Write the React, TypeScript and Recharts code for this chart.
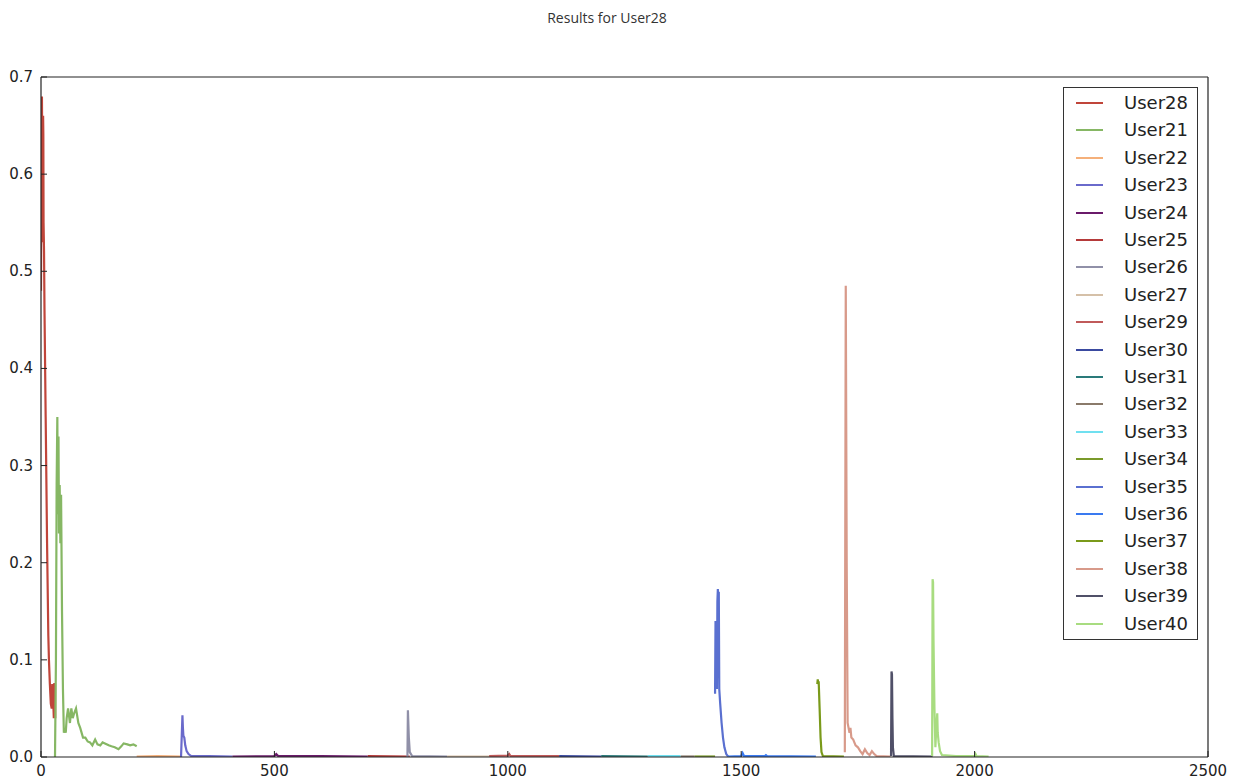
import React from 'react';
import { LineChart, Line, XAxis, YAxis } from 'recharts';

const TITLE = 'Results for User28';
const X_TICKS = [0, 500, 1000, 1500, 2000, 2500];
const Y_TICKS = [0, 0.1, 0.2, 0.3, 0.4, 0.5, 0.6, 0.7];

type Pair = [number, number];

const user28: Pair[] = [[0, 0.48], [1, 0.62], [2, 0.68], [3, 0.6], [3.6, 0.53], [4.5, 0.66], [5, 0.64], [5.5, 0.55], [6.5, 0.52], [7.5, 0.46], [10, 0.35], [13, 0.22], [15.7, 0.125], [17, 0.1], [19, 0.075], [21, 0.055], [23, 0.05], [24, 0.075], [26, 0.06], [27.5, 0.04], [28.5, 0.075], [30, 0.075], [30.5, 0.04]];
const user21: Pair[] = [[30, 0], [32, 0.1], [33.5, 0.28], [35, 0.35], [36, 0.25], [37.5, 0.33], [38.5, 0.23], [40, 0.28], [41.5, 0.22], [43, 0.27], [45, 0.15], [47, 0.07], [49, 0.025], [51, 0.03], [53, 0.025], [55, 0.04], [58, 0.05], [62, 0.035], [65, 0.05], [68, 0.04], [71, 0.045], [75, 0.05], [80, 0.035], [84, 0.03], [90, 0.02], [95, 0.02], [100, 0.016], [105, 0.015], [110, 0.012], [116, 0.018], [121, 0.013], [127, 0.012], [132, 0.015], [137, 0.014], [145, 0.012], [151, 0.011], [158, 0.01], [166, 0.008], [172, 0.011], [177, 0.014], [185, 0.013], [191, 0.012], [198, 0.013], [205, 0.011]];
const user22: Pair[] = [[205, 0.0005], [250, 0.0008], [300, 0.0005]];
const user23: Pair[] = [[300, 0], [303, 0.043], [304, 0.03], [305, 0.022], [307, 0.02], [309, 0.012], [312, 0.006], [316, 0.003], [322, 0.001], [360, 0.0008], [410, 0.0005]];
const user24: Pair[] = [[410, 0.0005], [500, 0.001], [504, 0.003], [508, 0.001], [600, 0.0008], [700, 0.0005]];
const user25: Pair[] = [[700, 0.0008], [790, 0.0005]];
const user26: Pair[] = [[785, 0], [786, 0.048], [788, 0.02], [790, 0.005], [795, 0.001], [870, 0.0005]];
const user27: Pair[] = [[870, 0.0005], [960, 0.0005]];
const user29: Pair[] = [[960, 0.001], [1000, 0.0015], [1003, 0.003], [1006, 0.001], [1110, 0.0008]];
const user30: Pair[] = [[1110, 0.0008], [1200, 0.0005]];
const user31: Pair[] = [[1200, 0.0008], [1300, 0.0005]];
const user32: Pair[] = [[1370, 0.0005], [1400, 0.0005]];
const user33: Pair[] = [[1300, 0.0008], [1370, 0.0008]];
const user34: Pair[] = [[1400, 0.0005], [1444, 0.0005]];
const user35: Pair[] = [[1444, 0.065], [1445, 0.14], [1446, 0.08], [1447, 0.13], [1448, 0.07], [1449, 0.16], [1450, 0.173], [1451, 0.1], [1452, 0.17], [1453, 0.07], [1455, 0.055], [1458, 0.035], [1461, 0.02], [1464, 0.01], [1468, 0.003], [1472, 0.0005]];
const user36: Pair[] = [[1472, 0.0005], [1500, 0.001], [1503, 0.004], [1506, 0.001], [1550, 0.0008], [1553, 0.002], [1556, 0.0008], [1660, 0.0005]];
const user37: Pair[] = [[1663, 0.075], [1664, 0.08], [1665, 0.076], [1666, 0.078], [1668, 0.05], [1670, 0.02], [1672, 0.005], [1675, 0.001], [1720, 0.0005]];
const user38: Pair[] = [[1722, 0.005], [1724, 0.485], [1726, 0.2], [1728, 0.035], [1730, 0.03], [1732, 0.025], [1734, 0.03], [1736, 0.02], [1740, 0.018], [1745, 0.012], [1750, 0.01], [1755, 0.006], [1760, 0.003], [1765, 0.008], [1770, 0.004], [1775, 0.002], [1780, 0.006], [1785, 0.003], [1790, 0.001], [1820, 0.0005]];
const user39: Pair[] = [[1821, 0.001], [1822, 0.088], [1823, 0.085], [1824, 0.04], [1825, 0.01], [1827, 0.001], [1910, 0.0005]];
const user40: Pair[] = [[1909, 0.001], [1910, 0.183], [1911, 0.18], [1912, 0.12], [1914, 0.05], [1916, 0.01], [1918, 0.03], [1920, 0.045], [1921, 0.025], [1923, 0.015], [1926, 0.006], [1930, 0.002], [1960, 0.001], [2000, 0.001], [2002, 0.003], [2004, 0.001], [2030, 0.0005]];

const SERIES: { name: string; color: string; data: Pair[] }[] = [
  { name: 'User28', color: '#c0453a', data: user28 },
  { name: 'User21', color: '#86b764', data: user21 },
  { name: 'User22', color: '#f5b07a', data: user22 },
  { name: 'User23', color: '#6a6acb', data: user23 },
  { name: 'User24', color: '#6a1a6a', data: user24 },
  { name: 'User25', color: '#b53a3a', data: user25 },
  { name: 'User26', color: '#9090a8', data: user26 },
  { name: 'User27', color: '#d5c0a8', data: user27 },
  { name: 'User29', color: '#c05a5a', data: user29 },
  { name: 'User30', color: '#3a4aa0', data: user30 },
  { name: 'User31', color: '#2a7a7a', data: user31 },
  { name: 'User32', color: '#8a7a6a', data: user32 },
  { name: 'User33', color: '#70e0f0', data: user33 },
  { name: 'User34', color: '#7a9a2a', data: user34 },
  { name: 'User35', color: '#5a70d0', data: user35 },
  { name: 'User36', color: '#3a7af0', data: user36 },
  { name: 'User37', color: '#7a9a1a', data: user37 },
  { name: 'User38', color: '#d89a8a', data: user38 },
  { name: 'User39', color: '#505068', data: user39 },
  { name: 'User40', color: '#a8dc80', data: user40 },
];

const FONT = '"DejaVu Sans", sans-serif';
const AXIS = '#222';

const BottomTick = (p: any) => (
  <g>
    <line x1={p.x} x2={p.x} y1={p.y} y2={p.y - 6} stroke={AXIS} />
    <text x={p.x} y={p.y + 19} textAnchor="middle" fontSize={15} fontFamily={FONT} fill="#222">
      {p.payload.value}
    </text>
  </g>
);
const TopTick = (p: any) => (
  <line x1={p.x} x2={p.x} y1={p.y} y2={p.y + 6} stroke={AXIS} />
);
const LeftTick = (p: any) => (
  <g>
    <line x1={p.x} x2={p.x + 6} y1={p.y} y2={p.y} stroke={AXIS} />
    <text x={p.x - 8} y={p.y + 5} textAnchor="end" fontSize={15} fontFamily={FONT} fill="#222">
      {Number(p.payload.value).toFixed(1)}
    </text>
  </g>
);
const RightTick = (p: any) => (
  <line x1={p.x} x2={p.x - 6} y1={p.y} y2={p.y} stroke={AXIS} />
);

export default function App() {
  return (
    <div style={{ position: 'relative', width: 1225, height: 772 }}>
      <div
        style={{
          position: 'absolute',
          left: 0,
          top: 1,
          width: 1198,
          textAlign: 'center',
          fontFamily: '"Open Sans", sans-serif',
          fontSize: 14,
          color: '#333',
          lineHeight: '18px',
        }}
      >
        {TITLE}
      </div>
      <LineChart width={1225} height={772} margin={{ top: 68, right: 24, left: 0, bottom: 3 }}>
        <XAxis
          xAxisId="b"
          type="number"
          dataKey="x"
          domain={[0, 2500]}
          ticks={X_TICKS}
          interval={0}
          allowDataOverflow
          height={20}
          tickLine={false}
          tickSize={0}
          tickMargin={0}
          axisLine={{ stroke: AXIS, strokeWidth: 1.2 }}
          tick={BottomTick}
        />
        <XAxis
          xAxisId="t"
          orientation="top"
          type="number"
          dataKey="x"
          domain={[0, 2500]}
          ticks={X_TICKS}
          interval={0}
          height={1}
          tickLine={false}
          tickSize={0}
          tickMargin={0}
          axisLine={{ stroke: AXIS, strokeWidth: 1.2 }}
          tick={TopTick}
        />
        <YAxis
          yAxisId="l"
          type="number"
          domain={[0, 0.7]}
          ticks={Y_TICKS}
          interval={0}
          allowDataOverflow
          width={33}
          tickLine={false}
          tickSize={0}
          tickMargin={0}
          axisLine={{ stroke: AXIS, strokeWidth: 1.2 }}
          tick={LeftTick}
        />
        <YAxis
          yAxisId="r"
          orientation="right"
          type="number"
          domain={[0, 0.7]}
          ticks={Y_TICKS}
          interval={0}
          width={1}
          tickLine={false}
          tickSize={0}
          tickMargin={0}
          axisLine={{ stroke: AXIS, strokeWidth: 1.2 }}
          tick={RightTick}
        />
        {SERIES.map((s) => (
          <Line
            key={s.name}
            xAxisId="b"
            yAxisId="l"
            name={s.name}
            data={s.data.map(([x, y]) => ({ x, y }))}
            dataKey="y"
            type="linear"
            stroke={s.color}
            strokeWidth={2.2}
            dot={false}
            activeDot={false}
            isAnimationActive={false}
          />
        ))}
      </LineChart>
      <div
        style={{
          position: 'absolute',
          left: 1055,
          top: 79,
          width: 135,
          height: 553,
          boxSizing: 'border-box',
          border: '1.5px solid #333',
          background: '#fff',
          fontFamily: FONT,
          fontSize: 18,
          color: '#222',
        }}
      >
        {SERIES.map((s, i) => {
          const cy = Math.round(15 + i * 27.4);
          return (
            <div key={s.name}>
              <div
                style={{
                  position: 'absolute',
                  left: 12,
                  top: cy - 1,
                  width: 27,
                  height: 2,
                  background: s.color,
                }}
              />
              <div
                style={{
                  position: 'absolute',
                  left: 60,
                  top: cy - 11,
                  height: 22,
                  lineHeight: '22px',
                }}
              >
                {s.name}
              </div>
            </div>
          );
        })}
      </div>
    </div>
  );
}
